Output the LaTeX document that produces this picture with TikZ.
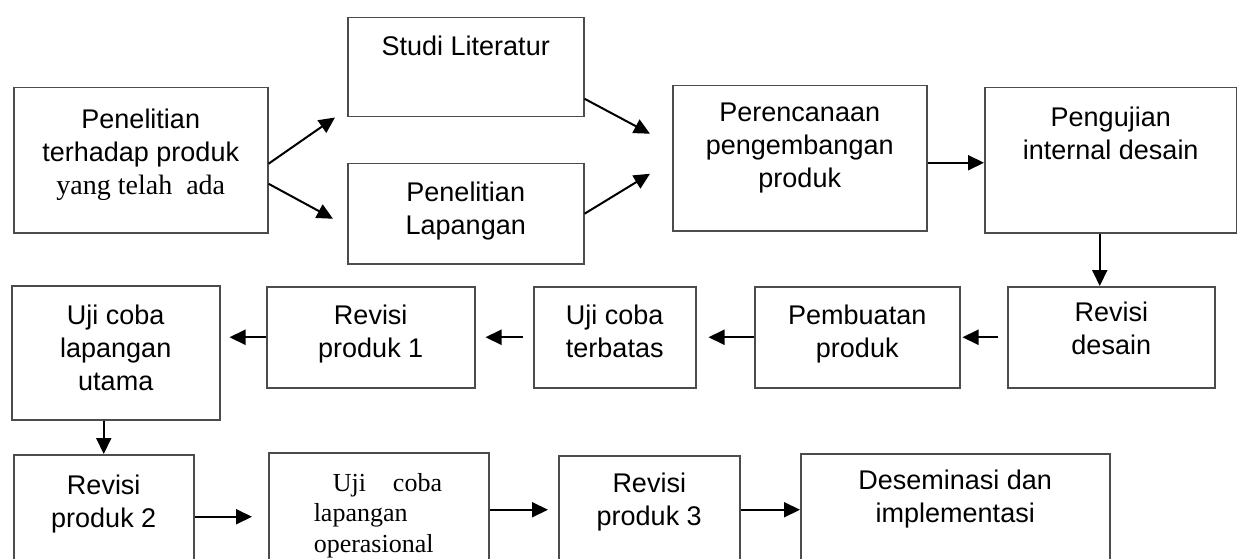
\documentclass[tikz,border=0pt]{standalone}
\usepackage{fontspec}
\setmainfont{Liberation Sans}
\newfontfamily\serifface{Liberation Serif}
\usetikzlibrary{calc,positioning,arrows.meta}

\tikzset{
  box/.style 2 args={draw=black!70, line width=1.5pt, minimum width=#1pt, minimum height=#2pt, anchor=north west, inner sep=0pt},
  txt/.style={font=\fontsize{27}{33}\selectfont, align=center, inner sep=0pt},
  arr/.style={-{Triangle[length=16pt,width=15pt]}, line width=2pt},
}

\begin{document}
\begin{tikzpicture}[x=1pt,y=-1pt]
  \useasboundingbox (0,0) rectangle (1237,559);
  \clip (0,0) rectangle (1237,559);
  % baris 1
  \node[box={254}{145}] (A) at (13,87) {};
  \node[box={236}{99}] (B) at (347,17) {};
  \node[box={236}{100}] (C) at (347,163) {};
  \node[box={254}{145}] (D) at (672,85) {};
  \node[box={252}{145}] (E) at (984,87) {};
  % baris 2
  \node[box={208}{134}] (F) at (11,285) {};
  \node[box={208}{101}] (G) at (266,286) {};
  \node[box={162}{101}] (H) at (533,286) {};
  \node[box={205}{101}] (I) at (754,286) {};
  \node[box={207}{101}] (J) at (1007,286) {};
  % baris 3 (terpotong di bawah)
  \node[box={180}{124}] (K) at (13,454) {};
  \node[box={220}{114}] (L) at (268,452) {};
  \node[box={181}{108}] (M) at (558,455) {};
  \node[box={309}{112}] (N) at (800,453) {};

  \node[txt, below=22pt of A.north] (tA) {Penelitian\\terhadap produk\\{\serifface\fontsize{28}{33}\selectfont yang telah\hspace{.5em}ada}};
  \node[txt, below=19pt of B.north] (tB) {Studi Literatur};
  \node[txt, below=19pt of C.north] (tC) {Penelitian\\Lapangan};
  \node[txt, below=18pt of D.north] (tD) {Perencanaan\\pengembangan\\produk};
  \node[txt, below=20pt of E.north] (tE) {Pengujian\\internal desain};
  \node[txt, below=20pt of F.north] (tF) {Uji coba\\lapangan\\utama};
  \node[txt, below=19pt of G.north] (tG) {Revisi\\produk 1};
  \node[txt, below=19pt of H.north] (tH) {Uji coba\\terbatas};
  \node[txt, below=19pt of I.north] (tI) {Pembuatan\\produk};
  \node[txt, below=16pt of J.north] (tJ) {Revisi\\desain};
  \node[txt, below=21pt of K.north] (tK) {Revisi\\produk 2};
  \node[txt, align=left, text width=130pt, font=\serifface\fontsize{26}{30.5}\selectfont, below=21pt of L.north] (tL) {\hspace*{19pt}Uji\hspace{27pt}coba\\lapangan\\operasional};
  \node[txt, below=18pt of M.north] (tM) {Revisi\\produk 3};
  \node[txt, below=17pt of N.north] (tN) {Deseminasi dan\\implementasi};

  \coordinate (de) at ($(D.east)+(0,4.5)$);
  \coordinate (ej) at ($(E.south)+(-11,0)$);

  \draw[arr] ($(A.east)+(0,3.5)$) -- ($(B.south west)+(-12,0)$);
  \draw[arr] ($(A.east)+(0,23.5)$) -- ($(C.west)+(-14,5)$);
  \draw[arr] ($(B.east)+(0,31.5)$) -- ($(D.west)+(-22,-24.5)$);
  \draw[arr] (C.east) -- ($(D.west)+(-22,15.5)$);
  \draw[arr] (de) -- (de -| E.west);
  \draw[arr] (ej) -- (ej |- J.north);
  \draw[arr, shorten <=9pt, shorten >=2pt] (J.west) -- (I.east);
  \draw[arr, shorten >=12pt] (I.west) -- (H.east);
  \draw[arr, shorten <=10pt, shorten >=10pt] (H.west) -- (G.east);
  \draw[arr, shorten >=9pt] (G.west) -- (G.west -| F.east);
  \draw[arr] (F.south -| K.north) -- (K.north);
  \draw[arr, shorten >=16pt] (K.east) -- (K.east -| L.west);
  \draw[arr, shorten >=10pt] (L.east) -- (M.west);
  \draw[arr] (M.east) -- (N.west);
\end{tikzpicture}
\end{document}
